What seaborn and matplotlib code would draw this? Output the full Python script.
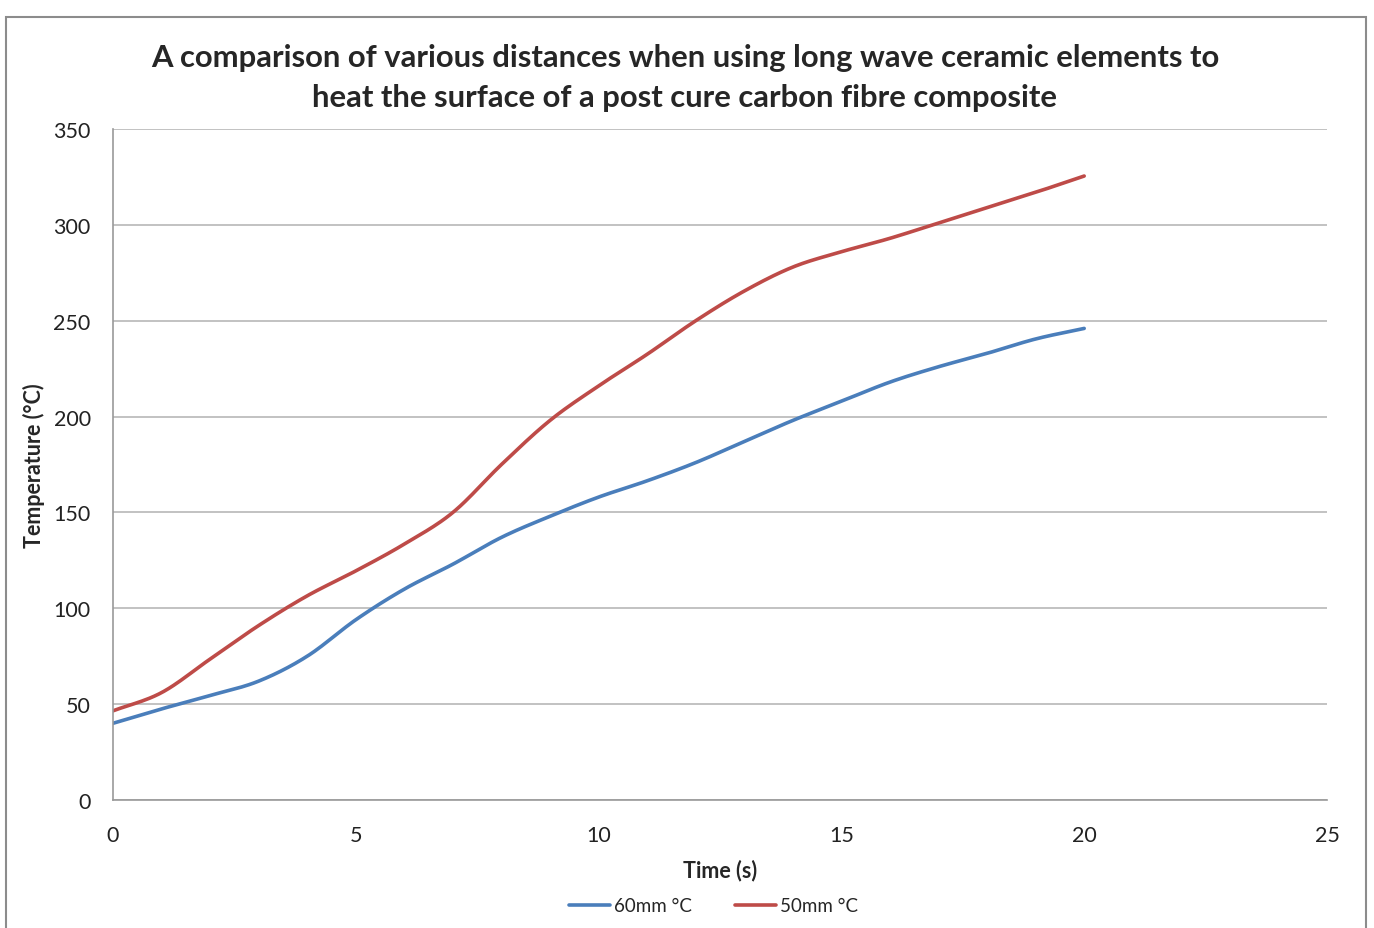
"""
Surface heating comparison: long wave ceramic elements at 60mm vs 50mm
"""

import numpy as np
import pandas as pd
import matplotlib

matplotlib.use("Agg")
import matplotlib.pyplot as plt
from matplotlib.patches import Rectangle
import seaborn as sns

# data (one reading per second)
time_s = [0, 1, 2, 3, 4, 5, 6, 7, 8, 9, 10, 11, 12, 13, 14, 15, 16, 17, 18, 19, 20]
temp_60mm = [40, 47.5, 54.5, 62, 75, 94, 110, 123, 137, 148, 158, 166.5, 176,
             187, 198, 208, 218, 226, 233, 240.5, 246]
temp_50mm = [46.5, 56, 73.5, 91, 106.5, 119.5, 133.5, 150, 175, 198, 216, 232.5,
             250, 265.5, 278, 286, 293, 301, 309, 317, 325.5]
series_names = ["60mm °C", "50mm °C"]
x_ticks = [0, 5, 10, 15, 20, 25]
y_ticks = [0, 50, 100, 150, 200, 250, 300, 350]

title = ("A comparison of various distances when using long wave ceramic elements to\n"
         "heat the surface of a post cure carbon fibre composite")

BLUE = "#4a7ebb"
RED = "#be4b48"
GRID = "#b8b8b8"


def smooth(x, y, steps=20):
    """Catmull-Rom style smoothing, like Excel's smoothed line"""
    x = np.asarray(x, float)
    y = np.asarray(y, float)
    px = np.concatenate([[2 * x[0] - x[1]], x, [2 * x[-1] - x[-2]]])
    py = np.concatenate([[2 * y[0] - y[1]], y, [2 * y[-1] - y[-2]]])
    xs, ys = [], []
    t = np.linspace(0, 1, steps, endpoint=False)
    for i in range(1, len(px) - 2):
        for p, out in ((px, xs), (py, ys)):
            p0, p1, p2, p3 = p[i - 1], p[i], p[i + 1], p[i + 2]
            out.append(0.5 * (2 * p1 + (-p0 + p2) * t
                              + (2 * p0 - 5 * p1 + 4 * p2 - p3) * t ** 2
                              + (-p0 + 3 * p1 - 3 * p2 + p3) * t ** 3))
    xs.append([x[-1]])
    ys.append([y[-1]])
    return np.concatenate(xs), np.concatenate(ys)


frames = []
for name, vals in zip(series_names, [temp_60mm, temp_50mm]):
    sx, sy = smooth(time_s, vals)
    frames.append(pd.DataFrame({"time": sx, "temp": sy, "series": name}))
df = pd.concat(frames, ignore_index=True)

sns.set_theme(style="white")
plt.rcParams["font.family"] = ["Lato", "DejaVu Sans"]

fig = plt.figure(figsize=(13.74, 9.29), dpi=100)
ax = fig.add_axes([0.0822, 0.1378, 0.8836, 0.7222])

sns.lineplot(
    data=df, x="time", y="temp", hue="series", hue_order=series_names,
    palette=[BLUE, RED], linewidth=2.6, sort=False, estimator=None, ax=ax,
)

ax.set_xlim(0, 25)
ax.set_ylim(0, 350)
ax.set_xticks(x_ticks)
ax.set_yticks(y_ticks)
ax.tick_params(axis="x", labelsize=15.5, length=0, pad=18, colors="#222222")
ax.tick_params(axis="y", labelsize=15.5, length=0, pad=16, colors="#222222")
ax.yaxis.grid(True, color=GRID, linewidth=1.2)
ax.xaxis.grid(False)
for side in ["top", "right"]:
    ax.spines[side].set_visible(False)
for side in ["left", "bottom"]:
    ax.spines[side].set_color("#999999")
    ax.spines[side].set_linewidth(1.2)

ax.set_xlabel("Time (s)", fontsize=15.5, fontweight="bold", labelpad=10)
ax.set_ylabel("Temperature (°C)", fontsize=15.5, fontweight="bold", labelpad=6)

fig.text(0.4985, 0.916, title, ha="center", va="center", fontsize=22.3,
         fontweight="bold", linespacing=1.5)

ax.legend_.remove()
handles, labels = ax.get_legend_handles_labels()
fig.legend(handles, labels, loc="center", bbox_to_anchor=(0.519, 0.024), ncol=2,
           frameon=False, fontsize=13.5, handlelength=2.2, columnspacing=2.3,
           handletextpad=0.2)

# outer chart frame
fig.patches.append(Rectangle((0.0044, -0.02), 0.9898, 1.0006, transform=fig.transFigure,
                             fill=False, edgecolor="#8c8c8c", linewidth=1.5))

fig.savefig("out.png", dpi=100)
